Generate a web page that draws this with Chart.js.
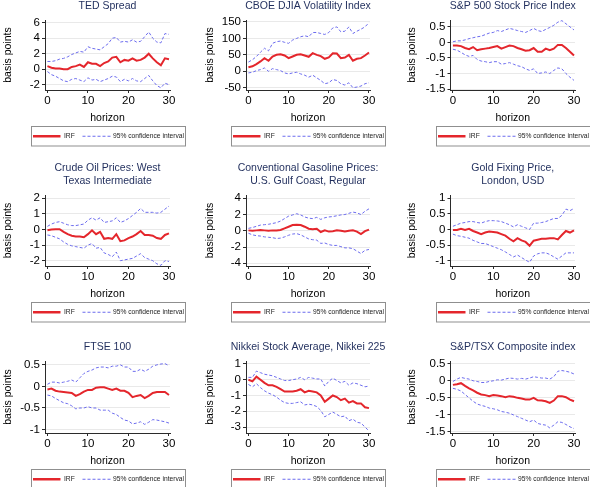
<!DOCTYPE html>
<html><head><meta charset="utf-8">
<script src="https://cdn.jsdelivr.net/npm/chart.js@4.4.1/dist/chart.umd.min.js"></script>
<style>
html,body{margin:0;padding:0;background:#fff;width:590px;height:487px;overflow:hidden;position:relative}
canvas{position:absolute}
</style></head><body>
<script>
// ---------- DATA ----------
const horizon = [0,1,2,3,4,5,6,7,8,9,10,11,12,13,14,15,16,17,18,19,20,21,22,23,24,25,26,27,28,29,30];
const xTickValues = [0,10,20,30];
const legendLabels = ['IRF','95% confidence interval'];
const xAxisTitle = 'horizon';
const yAxisTitle = 'basis points';

const tedTitle = ['TED Spread'];
const tedTicks = [-2,0,2,4,6];
const tedIRF = [0.4,0.2,0.1,0.1,0.0,0.0,0.3,0.4,0.6,0.3,0.9,0.7,0.7,0.4,0.8,1.0,1.5,1.6,0.9,1.2,1.1,1.4,1.1,1.2,1.5,2.0,1.4,0.9,0.5,1.4,1.3];
const tedUpper = [1.0,1.0,1.1,1.3,1.4,1.6,1.9,2.1,2.3,2.2,2.9,2.7,2.6,2.5,2.9,3.3,4.0,4.1,3.5,3.6,3.5,3.8,3.5,3.6,4.2,4.8,4.0,3.5,3.4,4.6,4.5];
const tedLower = [-0.3,-0.7,-0.9,-1.2,-1.5,-1.6,-1.3,-1.2,-1.4,-1.6,-1.1,-1.4,-1.3,-1.6,-1.4,-1.2,-0.9,-1.0,-1.6,-1.3,-1.5,-1.2,-1.5,-1.6,-1.2,-0.8,-1.5,-2.1,-2.4,-1.8,-2.0];

const vixTitle = ['CBOE DJIA Volatility Index'];
const vixTicks = [-50,0,50,100,150];
const vixIRF = [12,15,22,30,40,32,45,50,52,48,40,45,50,52,48,44,55,50,46,38,42,55,54,40,42,50,32,38,40,48,57];
const vixUpper = [28,35,45,58,70,62,85,90,92,88,85,95,100,105,108,105,118,118,115,112,118,132,135,120,122,135,115,122,128,135,148];
const vixLower = [-5,-3,2,5,10,0,8,5,2,-5,-8,-5,-3,-8,-12,-18,-12,-20,-28,-38,-35,-25,-28,-38,-42,-35,-50,-48,-45,-38,-35];

const spxTitle = ['S&P 500 Stock Price Index'];
const spxTicks = [-1.5,-1,-0.5,0,0.5];
const spxIRF = [-0.10,-0.10,-0.12,-0.18,-0.22,-0.15,-0.25,-0.22,-0.20,-0.18,-0.15,-0.12,-0.20,-0.15,-0.10,-0.12,-0.18,-0.22,-0.27,-0.25,-0.18,-0.30,-0.30,-0.20,-0.25,-0.20,-0.08,-0.08,-0.18,-0.30,-0.42];
const spxUpper = [0.02,0.05,0.05,0.08,0.12,0.15,0.18,0.20,0.25,0.30,0.32,0.38,0.35,0.40,0.45,0.42,0.38,0.35,0.32,0.38,0.45,0.38,0.35,0.42,0.48,0.55,0.65,0.70,0.60,0.50,0.40];
const spxLower = [-0.22,-0.25,-0.32,-0.40,-0.45,-0.42,-0.55,-0.60,-0.62,-0.65,-0.62,-0.62,-0.70,-0.68,-0.65,-0.70,-0.75,-0.78,-0.85,-0.90,-0.85,-1.00,-0.98,-0.95,-1.00,-0.90,-0.82,-0.85,-1.00,-1.12,-1.22];

const oilTitle = ['Crude Oil Prices: West','Texas Intermediate'];
const oilTicks = [-2,-1,0,1,2];
const oilIRF = [-0.05,0.00,0.02,0.02,-0.15,-0.30,-0.40,-0.45,-0.45,-0.50,-0.30,-0.05,-0.30,-0.15,-0.60,-0.55,-0.60,-0.30,-0.75,-0.70,-0.55,-0.45,-0.30,-0.10,-0.35,-0.35,-0.40,-0.55,-0.60,-0.35,-0.25];
const oilUpper = [0.20,0.35,0.45,0.50,0.40,0.30,0.25,0.25,0.30,0.35,0.60,0.75,0.60,0.75,0.45,0.50,0.55,0.75,0.45,0.55,0.70,0.90,1.10,1.35,1.10,1.10,1.10,1.05,1.10,1.30,1.50];
const oilLower = [-0.35,-0.40,-0.50,-0.60,-0.80,-0.95,-1.05,-1.10,-1.15,-1.20,-1.00,-0.90,-1.20,-1.15,-1.50,-1.60,-1.75,-1.45,-2.00,-1.95,-1.90,-1.85,-1.70,-1.55,-1.80,-1.90,-2.00,-2.20,-2.30,-2.00,-2.05];

const gasTitle = ['Conventional Gasoline Prices:','U.S. Gulf Coast, Regular'];
const gasTicks = [-4,-2,0,2,4];
const gasIRF = [0.05,0.00,0.05,0.10,0.05,0.00,0.05,0.05,0.10,0.30,0.50,0.70,0.75,0.70,0.50,0.25,0.20,0.25,-0.15,0.05,-0.10,-0.05,0.05,0.00,-0.10,0.00,0.05,-0.10,-0.40,-0.05,0.15];
const gasUpper = [0.30,0.40,0.55,0.70,0.75,0.80,0.90,1.00,1.20,1.50,1.80,1.95,2.10,1.95,1.70,1.55,1.50,1.65,1.40,1.60,1.70,1.75,1.85,1.95,2.00,2.15,2.30,2.20,2.00,2.40,2.70];
const gasLower = [-0.30,-0.50,-0.60,-0.65,-0.75,-0.80,-0.85,-0.95,-0.90,-0.75,-0.55,-0.40,-0.35,-0.50,-0.75,-1.00,-1.10,-1.15,-1.55,-1.50,-1.70,-1.80,-1.80,-1.95,-2.10,-2.10,-2.20,-2.50,-2.80,-2.40,-2.30];

const goldTitle = ['Gold Fixing Price,','London, USD'];
const goldTicks = [-1,-0.5,0,0.5,1];
const goldIRF = [-0.02,-0.02,0.02,-0.02,0.02,-0.05,-0.10,-0.15,-0.10,-0.07,-0.08,-0.10,-0.15,-0.20,-0.30,-0.38,-0.28,-0.35,-0.40,-0.52,-0.36,-0.33,-0.30,-0.30,-0.28,-0.28,-0.32,-0.18,-0.05,-0.10,-0.03];
const goldUpper = [0.10,0.15,0.20,0.22,0.25,0.25,0.22,0.20,0.25,0.28,0.28,0.27,0.25,0.20,0.15,0.08,0.15,0.10,0.05,0.00,0.20,0.20,0.22,0.25,0.30,0.35,0.35,0.45,0.65,0.60,0.67];
const goldLower = [-0.15,-0.20,-0.22,-0.25,-0.28,-0.35,-0.40,-0.45,-0.45,-0.50,-0.55,-0.60,-0.65,-0.72,-0.80,-0.88,-0.82,-0.90,-0.98,-1.05,-0.85,-0.78,-0.75,-0.75,-0.80,-0.88,-0.95,-0.85,-0.75,-0.75,-0.75];

const ftseTitle = ['FTSE 100'];
const ftseTicks = [-1,-0.5,0,0.5];
const ftseIRF = [-0.07,-0.05,-0.10,-0.12,-0.13,-0.14,-0.15,-0.22,-0.18,-0.12,-0.08,-0.08,-0.03,-0.02,-0.02,-0.05,-0.08,-0.05,-0.10,-0.10,-0.15,-0.25,-0.22,-0.20,-0.27,-0.22,-0.15,-0.13,-0.13,-0.13,-0.20];
const ftseUpper = [0.05,0.10,0.10,0.08,0.10,0.12,0.15,0.10,0.20,0.30,0.35,0.38,0.43,0.45,0.45,0.43,0.47,0.47,0.50,0.45,0.45,0.35,0.35,0.40,0.35,0.40,0.47,0.50,0.52,0.53,0.48];
const ftseLower = [-0.20,-0.22,-0.28,-0.33,-0.38,-0.40,-0.45,-0.52,-0.50,-0.50,-0.47,-0.50,-0.50,-0.55,-0.55,-0.55,-0.62,-0.65,-0.72,-0.78,-0.80,-0.87,-0.85,-0.82,-0.88,-0.83,-0.77,-0.78,-0.80,-0.82,-0.85];

const nikTitle = ['Nikkei Stock Average, Nikkei 225'];
const nikTicks = [-3,-2,-1,0,1];
const nikIRF = [0.00,-0.10,0.20,0.00,-0.20,-0.35,-0.35,-0.45,-0.60,-0.75,-0.75,-0.75,-0.70,-0.60,-0.80,-0.70,-0.75,-0.80,-1.00,-1.40,-1.20,-1.00,-1.10,-1.30,-1.20,-1.45,-1.35,-1.50,-1.50,-1.75,-1.80];
const nikUpper = [0.15,0.15,0.55,0.45,0.35,0.30,0.25,0.15,0.05,-0.05,-0.05,0.00,0.05,0.15,0.00,0.15,0.10,0.05,0.05,-0.40,-0.10,0.10,-0.05,-0.20,-0.10,-0.35,-0.20,-0.25,-0.35,-0.45,-0.40];
const nikLower = [-0.30,-0.45,-0.25,-0.50,-0.70,-0.85,-0.95,-1.10,-1.30,-1.45,-1.50,-1.50,-1.45,-1.40,-1.60,-1.55,-1.60,-1.70,-1.95,-2.35,-2.20,-2.05,-2.20,-2.35,-2.30,-2.60,-2.50,-2.70,-2.75,-3.00,-3.25];

const tsxTitle = ['S&P/TSX Composite index'];
const tsxTicks = [-1.5,-1,-0.5,0,0.5];
const tsxIRF = [-0.12,-0.10,-0.07,-0.15,-0.22,-0.28,-0.35,-0.40,-0.42,-0.45,-0.42,-0.43,-0.45,-0.48,-0.45,-0.47,-0.50,-0.52,-0.55,-0.55,-0.50,-0.57,-0.58,-0.60,-0.65,-0.58,-0.45,-0.45,-0.48,-0.55,-0.60];
const tsxUpper = [-0.02,0.05,0.10,0.07,0.05,0.00,-0.02,-0.05,-0.05,-0.02,0.00,0.03,0.02,0.05,0.08,0.07,0.05,0.07,0.05,0.08,0.12,0.10,0.08,0.08,0.05,0.12,0.28,0.30,0.28,0.25,0.20];
const tsxLower = [-0.22,-0.25,-0.30,-0.40,-0.50,-0.60,-0.68,-0.72,-0.75,-0.80,-0.82,-0.85,-0.90,-0.92,-0.95,-1.00,-1.05,-1.10,-1.15,-1.20,-1.15,-1.25,-1.28,-1.30,-1.38,-1.30,-1.20,-1.22,-1.28,-1.35,-1.40];

// ---------- PANELS ----------
const panels = [
  {title:tedTitle, ticks:tedTicks, irf:tedIRF, up:tedUpper, lo:tedLower, min:-2.68, max:6.35},
  {title:vixTitle, ticks:vixTicks, irf:vixIRF, up:vixUpper, lo:vixLower, min:-57, max:156},
  {title:spxTitle, ticks:spxTicks, irf:spxIRF, up:spxUpper, lo:spxLower, min:-1.53, max:0.72},
  {title:oilTitle, ticks:oilTicks, irf:oilIRF, up:oilUpper, lo:oilLower, min:-2.34, max:2.21},
  {title:gasTitle, ticks:gasTicks, irf:gasIRF, up:gasUpper, lo:gasLower, min:-4.33, max:4.4},
  {title:goldTitle, ticks:goldTicks, irf:goldIRF, up:goldUpper, lo:goldLower, min:-1.17, max:1.1},
  {title:ftseTitle, ticks:ftseTicks, irf:ftseIRF, up:ftseUpper, lo:ftseLower, min:-1.08, max:0.59},
  {title:nikTitle, ticks:nikTicks, irf:nikIRF, up:nikUpper, lo:nikLower, min:-3.38, max:1.19},
  {title:tsxTitle, ticks:tsxTicks, irf:tsxIRF, up:tsxUpper, lo:tsxLower, min:-1.53, max:0.58}
];

// ---------- LAYOUT / STYLE ----------
const COLS = [
  {x:0,   w:195, padL:2,  yW:43,   padR:25},
  {x:195, w:197, padL:9,  yW:42,   padR:22},
  {x:392, w:198, padL:14, yW:44.5, padR:15}
];
const ROWS = [
  {y:0,   h:155, padT:20, padB:31},
  {y:155, h:170, padT:40, padB:25},
  {y:325, h:162, padT:36, padB:20}
];
const FONT = '"Liberation Sans", Arial, Helvetica, sans-serif';
const RED = '#e4262c';
const BLUE = '#6c6cee';
const TITLE_COLOR = '#1f2d5c';
const AXIS_COLOR = '#2b2b2b';

const titlePlugin = {
  id:'panelTitle',
  afterDraw(chart, args, opts){
    const ctx = chart.ctx, ca = chart.chartArea;
    const lines = opts.text || [];
    const lh = 12.5;
    ctx.save();
    ctx.font = '10.5px ' + FONT;
    ctx.fillStyle = TITLE_COLOR;
    ctx.textAlign = 'center';
    ctx.textBaseline = 'middle';
    const cx = (ca.left + ca.right)/2;
    const y0 = ca.top - 14 - (lines.length-1)*lh;
    lines.forEach((t,i)=>ctx.fillText(t, cx, y0 + i*lh));
    ctx.restore();
  }
};

const legendPlugin = {
  id:'boxLegend',
  afterDraw(chart){
    const ctx = chart.ctx, ca = chart.chartArea;
    const ds = chart.data.datasets;
    const bw = 154, bh = 19.5;
    const cx = (ca.left + ca.right)/2;
    const bx = Math.round(cx - bw/2) + 0.5;
    const by = Math.round(ca.bottom + 36) + 0.5;
    const my = by + bh/2;
    ctx.save();
    ctx.fillStyle = '#fff';
    ctx.fillRect(bx, by, bw, bh);
    ctx.strokeStyle = '#8f8f8f';
    ctx.lineWidth = 1;
    ctx.strokeRect(bx, by, bw, bh);
    ctx.strokeStyle = ds[0].borderColor;
    ctx.lineWidth = 2.5;
    ctx.beginPath(); ctx.moveTo(bx+1.5, my); ctx.lineTo(bx+29, my); ctx.stroke();
    ctx.font = '6.7px ' + FONT;
    ctx.fillStyle = '#222';
    ctx.textAlign = 'left';
    ctx.textBaseline = 'middle';
    ctx.fillText(ds[0].label, bx+32.5, my);
    ctx.strokeStyle = ds[1].borderColor;
    ctx.lineWidth = 1.2;
    ctx.setLineDash([3,2]);
    ctx.beginPath(); ctx.moveTo(bx+51, my); ctx.lineTo(bx+79, my); ctx.stroke();
    ctx.setLineDash([]);
    ctx.fillText(ds[1].label, bx+81.5, my);
    ctx.restore();
  }
};

function series(values){ return horizon.map((h,i)=>({x:h, y:values[i]})); }

panels.forEach((p, k) => {
  const r = Math.floor(k/3), c = k%3;
  const col = COLS[c], row = ROWS[r];
  const cv = document.createElement('canvas');
  cv.width = col.w; cv.height = row.h;
  cv.style.left = col.x + 'px'; cv.style.top = row.y + 'px';
  cv.style.width = col.w + 'px'; cv.style.height = row.h + 'px';
  document.body.appendChild(cv);
  new Chart(cv, {
    type:'line',
    data:{datasets:[
      {label:legendLabels[0], data:series(p.irf), borderColor:RED, borderWidth:2, pointRadius:0, tension:0, fill:false},
      {label:legendLabels[1], data:series(p.up), borderColor:BLUE, borderWidth:1, borderDash:[3,2], pointRadius:0, tension:0, fill:false},
      {label:legendLabels[1], data:series(p.lo), borderColor:BLUE, borderWidth:1, borderDash:[3,2], pointRadius:0, tension:0, fill:false}
    ]},
    options:{
      responsive:false, animation:false, devicePixelRatio:1,
      layout:{padding:{left:col.padL, right:col.padR, top:row.padT, bottom:row.padB}},
      plugins:{legend:{display:false}, tooltip:{enabled:false}, panelTitle:{text:p.title}},
      scales:{
        x:{
          type:'linear', min:-0.6, max:30.25,
          afterBuildTicks:s=>{ s.ticks = xTickValues.map(v=>({value:v})); },
          afterFit:s=>{ s.height = 34; },
          grid:{drawOnChartArea:false, drawTicks:true, tickLength:3, tickColor:AXIS_COLOR},
          border:{display:true, color:AXIS_COLOR, width:1},
          ticks:{padding:1, color:'#000', font:{family:FONT, size:11.5}, maxRotation:0, autoSkip:false, callback:v=>String(v)},
          title:{display:true, text:xAxisTitle, padding:0, color:'#000', font:{family:FONT, size:10.5}}
        },
        y:{
          type:'linear', min:p.min, max:p.max,
          afterBuildTicks:s=>{ s.ticks = p.ticks.map(v=>({value:v})); },
          afterFit:s=>{ s.width = col.yW; },
          grid:{color:'#e9e9e9', lineWidth:1, drawTicks:true, tickLength:3, tickColor:AXIS_COLOR},
          border:{display:true, color:AXIS_COLOR, width:1},
          ticks:{padding:2, color:'#000', font:{family:FONT, size:11.5}, autoSkip:false, callback:v=>String(v)},
          title:{display:true, text:yAxisTitle, padding:0, color:'#000', font:{family:FONT, size:10.5}}
        }
      }
    },
    plugins:[titlePlugin, legendPlugin]
  });
});
</script>
</body></html>
